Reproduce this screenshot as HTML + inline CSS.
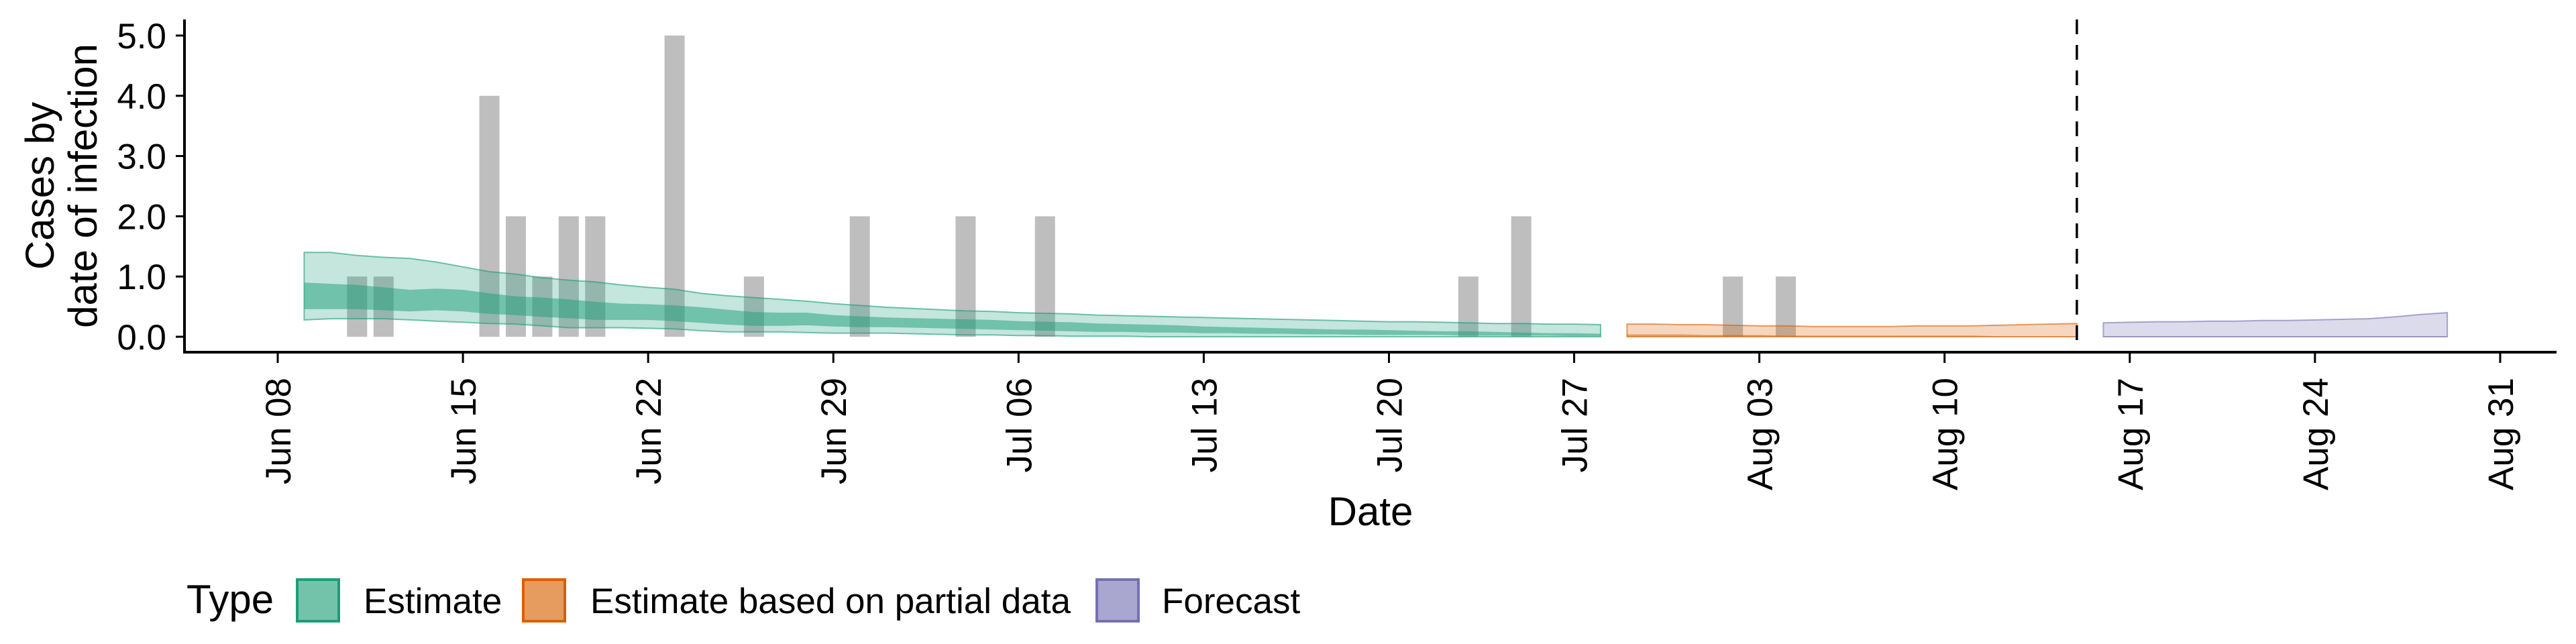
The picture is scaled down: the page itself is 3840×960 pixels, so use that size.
<!DOCTYPE html>
<html><head><meta charset="utf-8"><style>
html,body{margin:0;padding:0;background:#fff;}
svg{display:block;font-family:"Liberation Sans",sans-serif;}
</style></head><body>
<svg id="chart" width="3840" height="960" viewBox="0 0 3840 960" xmlns="http://www.w3.org/2000/svg">
<rect width="3840" height="960" fill="#fff"/>
<g id="bars"></g>
<g id="bands"></g>
<g id="axes"></g>
<g id="legend"></g>
</svg>
<script>
// ---- data ----
const barDays = [3,4,8,9,10,11,12,15,18,22,26,29,45,47,55,57]; // days since Jun 08
const barValues = [1,1,4,2,1,2,2,5,1,2,2,2,1,2,1,1];
const yTicks = [0,1,2,3,4,5];
const yTickLabels = ["0.0","1.0","2.0","3.0","4.0","5.0"];
const xTickDays = [0,7,14,21,28,35,42,49,56,63,70,77,84];
const xTickLabels = ["Jun 08","Jun 15","Jun 22","Jun 29","Jul 06","Jul 13","Jul 20","Jul 27","Aug 03","Aug 10","Aug 17","Aug 24","Aug 31"];
const estStart = 1;
const estUpper90 = [1.40,1.40,1.35,1.32,1.30,1.24,1.16,1.08,1.04,0.98,0.94,0.91,0.86,0.82,0.79,0.72,0.68,0.65,0.62,0.59,0.55,0.52,0.49,0.47,0.45,0.43,0.42,0.40,0.39,0.38,0.36,0.35,0.34,0.33,0.32,0.31,0.30,0.29,0.28,0.27,0.26,0.25,0.25,0.24,0.23,0.22,0.22,0.21,0.21,0.20];
const estLower90 = [0.28,0.30,0.30,0.30,0.28,0.26,0.24,0.22,0.21,0.18,0.15,0.15,0.15,0.14,0.13,0.10,0.08,0.08,0.08,0.07,0.06,0.06,0.06,0.05,0.04,0.03,0.03,0.02,0.02,0.01,0.01,0.01,0,0,0,0,0,0,0,0,0,0,0,0,0,0,0,0,0,0];
const estUpper50 = [0.90,0.88,0.86,0.82,0.78,0.80,0.78,0.72,0.67,0.65,0.62,0.58,0.55,0.54,0.52,0.49,0.45,0.41,0.40,0.40,0.36,0.34,0.32,0.31,0.30,0.29,0.28,0.26,0.25,0.24,0.22,0.21,0.20,0.19,0.17,0.16,0.15,0.14,0.13,0.12,0.12,0.11,0.10,0.09,0.09,0.08,0.07,0.06,0.06,0.05];
const estLower50 = [0.46,0.46,0.46,0.44,0.42,0.44,0.42,0.38,0.36,0.33,0.31,0.28,0.28,0.28,0.26,0.23,0.20,0.18,0.18,0.19,0.17,0.16,0.16,0.15,0.14,0.13,0.12,0.11,0.10,0.09,0.08,0.08,0.07,0.07,0.06,0.06,0.05,0.05,0.04,0.04,0.03,0.03,0.03,0.03,0.02,0.02,0.02,0.02,0.01,0.01];
const partStart = 51;
const partUpper90 = [0.21,0.21,0.20,0.20,0.19,0.18,0.18,0.17,0.17,0.17,0.17,0.18,0.18,0.18,0.19,0.20,0.21,0.22];
const partLower90 = [0,0,0,0,0,0,0,0,0,0,0,0,0,0,0,0,0,0];
const partUpper50 = [0.04,0.04,0.04,0.03,0.03,0.03,0.02,0.02,0.02,0.02,0.02,0.02,0.02,0.02,0.01,0.01,0.01,0.01];
const partLower50 = [0,0,0,0,0,0,0,0,0,0,0,0,0,0,0,0,0,0];
const foreStart = 69;
const foreUpper90 = [0.23,0.24,0.25,0.25,0.26,0.26,0.27,0.27,0.28,0.29,0.30,0.33,0.37,0.40];
const foreLower90 = [0,0,0,0,0,0,0,0,0,0,0,0,0,0];
const foreUpper50 = [0.01,0.01,0.01,0.01,0.01,0.01,0.01,0.01,0.01,0.01,0.01,0.01,0.01,0.01];
const foreLower50 = [0,0,0,0,0,0,0,0,0,0,0,0,0,0];
const forecastDateDay = 68;

// ---- scales ----
const X0 = 414, PXD = 39.44, Y0 = 502, PXV = 89.8;
const xs = d => X0 + d*PXD;
const ys = v => Y0 - v*PXV;
const NS = "http://www.w3.org/2000/svg";
function mk(tag, attrs, parent){const e=document.createElementNS(NS,tag);for(const k in attrs)e.setAttribute(k,attrs[k]);parent.appendChild(e);return e;}

const gBars = document.getElementById('bars');
barDays.forEach((d,i)=>{
  const r = mk('rect',{x:xs(d)-15,y:ys(barValues[i]),width:30,height:ys(0)-ys(barValues[i]),fill:'#bebebe'},gBars);
  
  
});

const gB = document.getElementById('bands');
function band(start, up, lo, fill, op, stroke, name){
  let p = '';
  up.forEach((v,i)=>{p += (i?'L':'M')+xs(start+i).toFixed(1)+','+ys(v).toFixed(1);});
  for(let i=lo.length-1;i>=0;i--) p += 'L'+xs(start+i).toFixed(1)+','+ys(lo[i]).toFixed(1);
  p += 'Z';
  const e = mk('path',{d:p,fill:fill,'fill-opacity':op,stroke:stroke,'stroke-width':2,'stroke-opacity':0.6},gB);
  
  
}
band(estStart,estUpper90,estLower90,'#1b9e77',0.26,'#1b9e77','estimate-band-90');
band(estStart,estUpper50,estLower50,'#1b9e77',0.5,'none','estimate-band-50');
band(partStart,partUpper90,partLower90,'#d95f02',0.25,'#d95f02','partial-band-90');
band(partStart,partUpper50,partLower50,'#d95f02',0.5,'none','partial-band-50');
band(foreStart,foreUpper90,foreLower90,'#7570b3',0.25,'#7570b3','forecast-band-90');
band(foreStart,foreUpper50,foreLower50,'#7570b3',0.5,'none','forecast-band-50');

const gA = document.getElementById('axes');
let e;
e = mk('line',{x1:xs(forecastDateDay),y1:29,x2:xs(forecastDateDay),y2:525,stroke:'#000','stroke-width':3.5,'stroke-dasharray':'22 16'},gA);


e = mk('line',{x1:275,y1:29,x2:275,y2:527,stroke:'#000','stroke-width':4},gA);


e = mk('line',{x1:273,y1:525,x2:3811,y2:525,stroke:'#000','stroke-width':4},gA);


yTicks.forEach((v,i)=>{
  const t = mk('line',{x1:262,y1:ys(v),x2:275,y2:ys(v),stroke:'#000','stroke-width':3},gA);
  
  
  const l = mk('text',{x:248,y:ys(v)+19,'text-anchor':'end','font-size':53,fill:'#000'},gA);
  l.textContent = yTickLabels[i];
  
  
});
xTickDays.forEach((d,i)=>{
  const x = xs(d);
  const t = mk('line',{x1:x,y1:525,x2:x,y2:541,stroke:'#000','stroke-width':3},gA);
  
  
  const l = mk('text',{x:0,y:0,'text-anchor':'end','font-size':53,fill:'#000',transform:'translate('+(x+19)+',563) rotate(-90)'},gA);
  l.textContent = xTickLabels[i];
  
  
});
e = mk('text',{x:2043,y:783,'text-anchor':'middle','font-size':60,fill:'#000'},gA);
e.textContent='Date';


e = mk('text',{x:0,y:0,'text-anchor':'middle','font-size':60,fill:'#000',transform:'translate(80,277) rotate(-90)'},gA);
e.textContent='Cases by';


e = mk('text',{x:0,y:0,'text-anchor':'middle','font-size':60,fill:'#000',transform:'translate(144,277) rotate(-90)'},gA);
e.textContent='date of infection';



const gL = document.getElementById('legend');
e = mk('text',{x:278,y:914,'font-size':60,fill:'#000'},gL);
e.textContent='Type';


const legKeys = [441,778,1633];
const legText = ["Estimate","Estimate based on partial data","Forecast"];
const legTextX = [542,880,1732];
const legFill = ['#73c3aa','#e69b5f','#a9a6d0'];
const legStroke = ['#1b9e77','#d95f02','#7570b3'];
legKeys.forEach((x,i)=>{
  const r = mk('rect',{x:x+2,y:864,width:62,height:62,fill:legFill[i],stroke:legStroke[i],'stroke-width':4},gL);
  
  
  const t = mk('text',{x:legTextX[i],y:914,'font-size':53,fill:'#000'},gL);
  t.textContent = legText[i];
  
  
});
</script>
</body></html>
